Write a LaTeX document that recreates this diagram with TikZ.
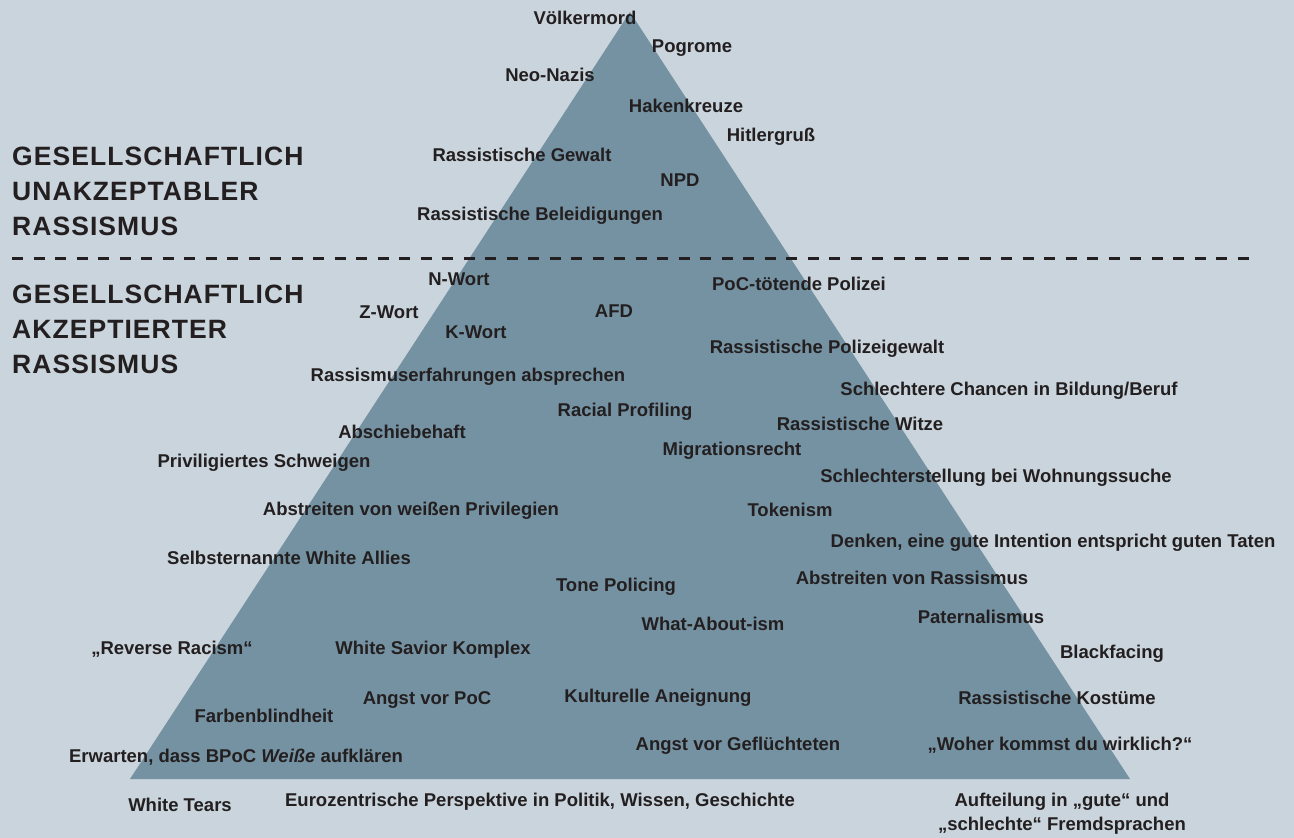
\documentclass[tikz,border=0pt]{standalone}
\usepackage{fontspec}
\setmainfont{Liberation Sans}[BoldFont={Liberation Sans Bold},BoldItalicFont={Liberation Sans Bold Italic}]
\newfontfamily\headfont{Liberation Sans Bold}[LetterSpace=4]
\definecolor{bg}{HTML}{C9D4DC}
\definecolor{tri}{HTML}{7592A2}
\definecolor{ink}{HTML}{231F20}
\begin{document}
\begin{tikzpicture}[x=1pt,y=-1pt,
  lab/.style={inner sep=0pt,text=ink,font=\fontsize{18.5}{22}\selectfont\bfseries,anchor=center},
  head/.style={inner sep=0pt,text=ink,font=\headfont\fontsize{26.5}{35}\selectfont,anchor=north west,align=left}]
\useasboundingbox (0,0) rectangle (1294,838);
\fill[bg] (0,0) rectangle (1294,838);
\fill[tri] (130,779) -- (630,12) -- (1130,779) -- cycle;
\draw[ink,line width=3pt,dash pattern=on 11pt off 10.5pt] (12,258) -- (1250,258);
\node[head] (h1) at (12,146.5) {GESELLSCHAFTLICH\\UNAKZEPTABLER\\RASSISMUS};
\node[head] (h2) at (12,284.5) {GESELLSCHAFTLICH\\AKZEPTIERTER\\RASSISMUS};
\node[lab] (l1) at (585,18) {Völkermord};
\node[lab] (l2) at (692,48) {Pogrome};
\node[lab] (l3) at (550,75) {Neo-Nazis};
\node[lab] (l4) at (686,106) {Hakenkreuze};
\node[lab] (l5) at (771,137) {Hitlergruß};
\node[lab] (l6) at (522,155) {Rassistische Gewalt};
\node[lab] (l7) at (680,180) {NPD};
\node[lab] (l8) at (540,216) {Rassistische Beleidigungen};
\node[lab] (l9) at (459,279) {N-Wort};
\node[lab] (l10) at (799,284) {PoC-tötende Polizei};
\node[lab] (l11) at (389,312) {Z-Wort};
\node[lab] (l12) at (614,311) {AFD};
\node[lab] (l13) at (476,332) {K-Wort};
\node[lab] (l14) at (827,349) {Rassistische Polizeigewalt};
\node[lab] (l15) at (468,377) {Rassismuserfahrungen absprechen};
\node[lab] (l16) at (1009,391) {Schlechtere Chancen in Bildung/Beruf};
\node[lab] (l17) at (625,412) {Racial Profiling};
\node[lab] (l18) at (860,424) {Rassistische Witze};
\node[lab] (l19) at (402,432) {Abschiebehaft};
\node[lab] (l20) at (732,451) {Migrationsrecht};
\node[lab] (l21) at (264,463) {Priviligiertes Schweigen};
\node[lab] (l22) at (996,478) {Schlechterstellung bei Wohnungssuche};
\node[lab] (l23) at (411,511) {Abstreiten von weißen Privilegien};
\node[lab] (l24) at (790,510) {Tokenism};
\node[lab] (l25) at (1053,543) {Denken, eine gute Intention entspricht guten Taten};
\node[lab] (l26) at (289,558) {Selbsternannte White Allies};
\node[lab] (l27) at (616,587) {Tone Policing};
\node[lab] (l28) at (912,578) {Abstreiten von Rassismus};
\node[lab] (l29) at (981,617) {Paternalismus};
\node[lab] (l30) at (713,624) {What-About-ism};
\node[lab] (l31) at (172,649) {„Reverse Racism“};
\node[lab] (l32) at (433,650) {White Savior Komplex};
\node[lab] (l33) at (1112,654) {Blackfacing};
\node[lab] (l34) at (427,700) {Angst vor PoC};
\node[lab] (l35) at (658,698) {Kulturelle Aneignung};
\node[lab] (l36) at (1057,698) {Rassistische Kostüme};
\node[lab] (l37) at (264,716) {Farbenblindheit};
\node[lab] (l38) at (236,757) {Erwarten, dass BPoC \textit{Weiße} aufklären};
\node[lab] (l39) at (738,746) {Angst vor Geflüchteten};
\node[lab] (l40) at (1060,745) {„Woher kommst du wirklich?“};
\node[lab] (l41) at (180,805) {White Tears};
\node[lab] (l42) at (540,802) {Eurozentrische Perspektive in Politik, Wissen, Geschichte};
\node[lab,align=center,font=\fontsize{18.5}{24}\selectfont\bfseries] (l43) at (1062,814) {Aufteilung in „gute“ und\\„schlechte“ Fremdsprachen};
\end{tikzpicture}
\end{document}
